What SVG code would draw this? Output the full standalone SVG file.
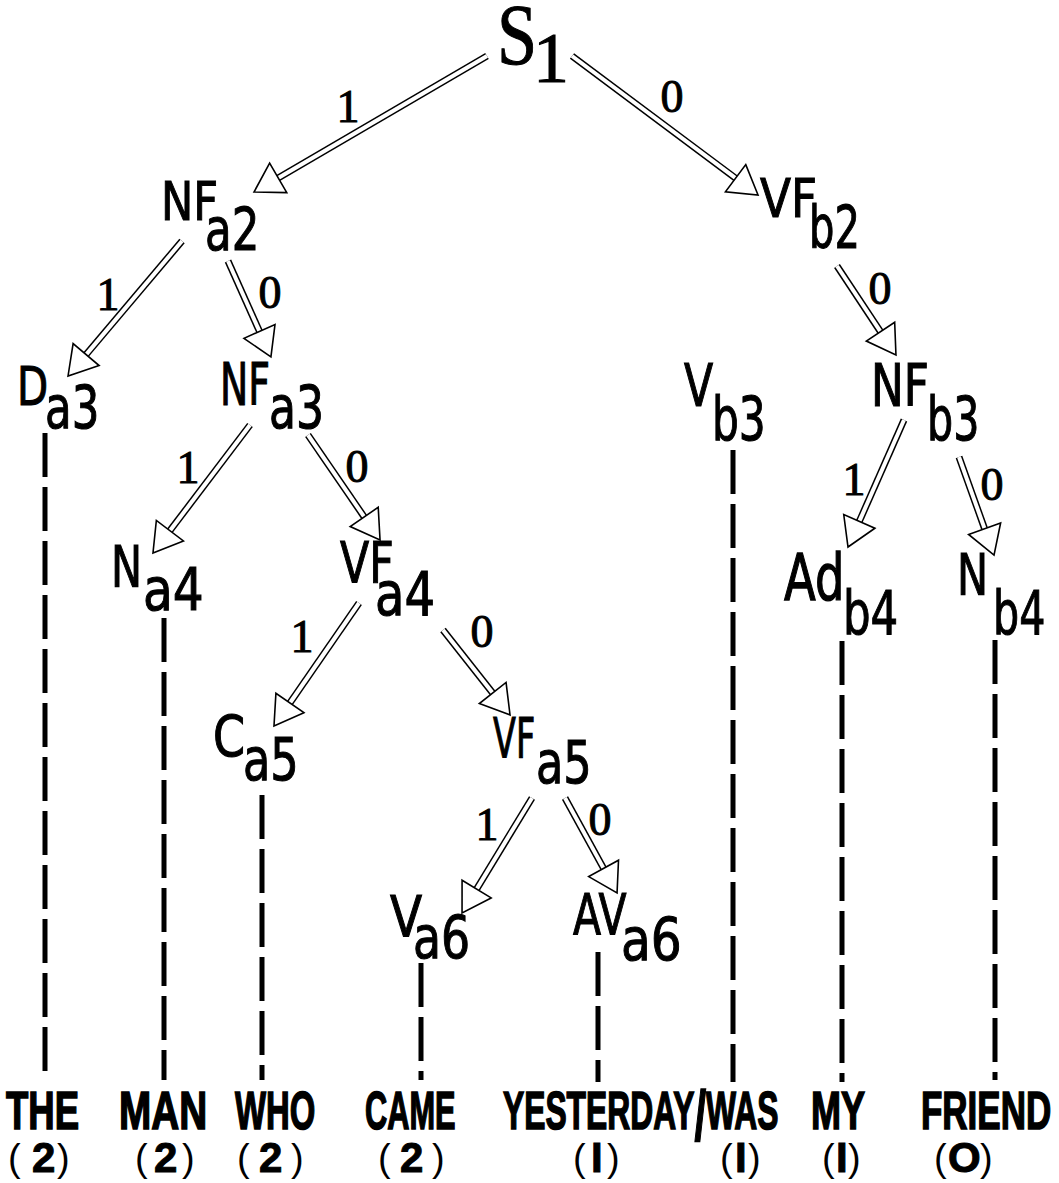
<svg xmlns="http://www.w3.org/2000/svg" width="1059" height="1183" viewBox="0 0 1059 1183">
  <style>
    .bg { fill: #ffffff; }
    .m { font-family: "DejaVu Sans", "Liberation Sans", sans-serif; font-size: 54px; fill: #000; stroke: #000; stroke-width: 1.1; }
    .s { font-family: "DejaVu Sans", "Liberation Sans", sans-serif; font-size: 58px; fill: #000; stroke: #000; stroke-width: 1.1; }
    .root { font-family: "Liberation Serif", "DejaVu Serif", serif; fill: #000; stroke: #000; stroke-width: 1; }
    .lbl { font-family: "Liberation Serif", "DejaVu Serif", serif; font-size: 46px; fill: #000; text-anchor: middle; stroke: #000; stroke-width: 1; }
    .word { font-family: "Liberation Sans", "DejaVu Sans", sans-serif; font-size: 53px; font-weight: bold; fill: #000; stroke: #000; stroke-width: 1.6; }
    .cnt { font-family: "Liberation Sans", "DejaVu Sans", sans-serif; font-size: 38px; fill: #000; }
    .cnt .d { font-weight: bold; font-size: 42px; stroke: #000; stroke-width: 1; }
    .rail { fill: none; stroke: #000; stroke-width: 7; stroke-linecap: butt; }
    .gap { fill: none; stroke: #fff; stroke-width: 4; stroke-linecap: butt; marker-end: url(#head); }
    .lead { fill: none; stroke: #000; stroke-width: 5; stroke-dasharray: 44 10; }
  </style>
  <defs>
    <!-- open triangular head; its base sits at the end of the double rail -->
    <marker id="head" markerUnits="userSpaceOnUse" orient="auto" refX="0" refY="0"
            markerWidth="40" markerHeight="40" viewBox="-2 -20 34 40" overflow="visible">
      <path d="M0,-17 L28,0 L0,17 Z" fill="#fff" stroke="#000" stroke-width="1.6" stroke-linejoin="miter"/>
    </marker>
  </defs>

  <rect class="bg" x="0" y="0" width="1059" height="1183"/>

  <!-- tree edges: double rails with open heads -->
  <g id="connectors">
    <path class="rail" d="M487,56 L278.2,177.9"/><path class="gap" d="M487,56 L278.2,177.9"/>
    <path class="rail" d="M572,56 L735.6,178.2"/><path class="gap" d="M572,56 L735.6,178.2"/>
    <path class="rail" d="M182,241 L86.1,354.6"/><path class="gap" d="M182,241 L86.1,354.6"/>
    <path class="rail" d="M228,261 L259.5,331.4"/><path class="gap" d="M228,261 L259.5,331.4"/>
    <path class="rail" d="M837,266 L880.5,331.7"/><path class="gap" d="M837,266 L880.5,331.7"/>
    <path class="rail" d="M904,420 L859.3,521.4"/><path class="gap" d="M904,420 L859.3,521.4"/>
    <path class="rail" d="M959,457 L984.6,528.7"/><path class="gap" d="M959,457 L984.6,528.7"/>
    <path class="rail" d="M250,425 L169.9,530.7"/><path class="gap" d="M250,425 L169.9,530.7"/>
    <path class="rail" d="M308,435 L364.2,516.9"/><path class="gap" d="M308,435 L364.2,516.9"/>
    <path class="rail" d="M359,603 L289.9,703"/><path class="gap" d="M359,603 L289.9,703"/>
    <path class="rail" d="M443,630 L492.7,693"/><path class="gap" d="M443,630 L492.7,693"/>
    <path class="rail" d="M532,798 L476.6,889.1"/><path class="gap" d="M532,798 L476.6,889.1"/>
    <path class="rail" d="M565,798 L603.6,868.4"/><path class="gap" d="M565,798 L603.6,868.4"/>

    <!-- branch values -->
    <text class="lbl" x="348" y="122">1</text>
    <text class="lbl" x="672" y="112">0</text>
    <text class="lbl" x="108" y="310">1</text>
    <text class="lbl" x="270" y="308">0</text>
    <text class="lbl" x="880" y="304">0</text>
    <text class="lbl" x="854" y="495">1</text>
    <text class="lbl" x="992" y="500">0</text>
    <text class="lbl" x="188" y="483">1</text>
    <text class="lbl" x="357" y="482">0</text>
    <text class="lbl" x="302" y="652">1</text>
    <text class="lbl" x="482" y="647">0</text>
    <text class="lbl" x="487" y="840">1</text>
    <text class="lbl" x="600" y="835">0</text>

    <!-- dashed leads from terminal nodes down to the words -->
    <path class="lead" d="M45,433 V1080"/>
    <path class="lead" d="M164,618 V1080"/>
    <path class="lead" d="M262,795 V1080"/>
    <path class="lead" d="M421,963 V1080"/>
    <path class="lead" d="M598,952 V1082"/>
    <path class="lead" d="M733,450 V1082"/>
    <path class="lead" d="M842,641 V1082"/>
    <path class="lead" d="M995,640 V1080"/>
  </g>

  <!-- nodes -->
  <g id="node-S1">
    <text class="root" font-size="86" transform="translate(497,64) scale(0.84,1)">S</text>
    <text class="root" font-size="72" x="533" y="82">1</text>
  </g>
  <g id="node-NFa2">
    <text class="m" transform="translate(161,220) scale(0.80,1)">NF</text>
    <text class="s" transform="translate(205,250) scale(0.75,1)">a2</text>
  </g>
  <g id="node-VFb2">
    <text class="m" transform="translate(760,217) scale(0.84,1)">VF</text>
    <text class="s" transform="translate(809,248) scale(0.69,1)">b2</text>
  </g>
  <g id="node-Da3">
    <text class="m" transform="translate(17,405) scale(0.75,1)">D</text>
    <text class="s" transform="translate(45,428) scale(0.75,1)">a3</text>
  </g>
  <g id="node-NFa3">
    <text class="m" transform="translate(220,405) scale(0.70,1.1)">NF</text>
    <text class="s" transform="translate(269,428) scale(0.76,1)">a3</text>
  </g>
  <g id="node-Vb3">
    <text class="m" transform="translate(684,406) scale(0.79,1.08)">V</text>
    <text class="s" transform="translate(712,440) scale(0.73,1.05)">b3</text>
  </g>
  <g id="node-NFb3">
    <text class="m" transform="translate(871,406) scale(0.81,1.08)">NF</text>
    <text class="s" transform="translate(927,440) scale(0.71,1.05)">b3</text>
  </g>
  <g id="node-Na4">
    <text class="m" transform="translate(111,587) scale(0.77,1.06)">N</text>
    <text class="s" transform="translate(143,610) scale(0.84,1)">a4</text>
  </g>
  <g id="node-VFa4">
    <text class="m" transform="translate(340,583) scale(0.79,1.06)">VF</text>
    <text class="s" transform="translate(375,615) scale(0.83,1.04)">a4</text>
  </g>
  <g id="node-Adb4">
    <text class="m" transform="translate(784,600) scale(0.86,1.18)">Ad</text>
    <text class="s" transform="translate(843,634) scale(0.75,1.05)">b4</text>
  </g>
  <g id="node-Nb4">
    <text class="m" transform="translate(957,595) scale(0.77,1.04)">N</text>
    <text class="s" transform="translate(993,634) scale(0.71,1.05)">b4</text>
  </g>
  <g id="node-Ca5">
    <text class="m" transform="translate(213,757) scale(0.85,1.06)">C</text>
    <text class="s" transform="translate(243,780) scale(0.77,1)">a5</text>
  </g>
  <g id="node-VFa5">
    <text class="m" transform="translate(493,757) scale(0.62,1.02)">VF</text>
    <text class="s" transform="translate(536,783) scale(0.77,1)">a5</text>
  </g>
  <g id="node-Va6">
    <text class="m" transform="translate(390,937) scale(0.87,1.06)">V</text>
    <text class="s" transform="translate(413,958) scale(0.79,1)">a6</text>
  </g>
  <g id="node-AVa6">
    <text class="m" transform="translate(573,935) scale(0.76,1.06)">AV</text>
    <text class="s" transform="translate(621,960) scale(0.84,1)">a6</text>
  </g>

  <!-- the sentence and its counts -->
  <g id="words">
    <text class="word" transform="translate(6,1129) scale(0.69,1)">THE</text>
    <text class="word" transform="translate(119,1129) scale(0.73,1)">MAN</text>
    <text class="word" transform="translate(235,1129) scale(0.62,1)">WHO</text>
    <text class="word" transform="translate(365,1129) scale(0.58,1)">CAME</text>
    <text class="word" transform="translate(503,1129) scale(0.60,1)">YESTERDAY<tspan dy="11" font-size="70">/</tspan><tspan dy="-11">WAS</tspan></text>
    <text class="word" transform="translate(811,1129) scale(0.68,1)">MY</text>
    <text class="word" transform="translate(921,1129) scale(0.66,1)">FRIEND</text>
  </g>
  <g id="counts">
    <text class="cnt" y="1171"><tspan x="8">(</tspan><tspan class="d" x="32" y="1172">2</tspan><tspan x="57" y="1171">)</tspan></text>
    <text class="cnt" y="1171"><tspan x="135">(</tspan><tspan class="d" x="154" y="1172">2</tspan><tspan x="182" y="1171">)</tspan></text>
    <text class="cnt" y="1171"><tspan x="237">(</tspan><tspan class="d" x="259" y="1172">2</tspan><tspan x="291" y="1171">)</tspan></text>
    <text class="cnt" y="1171"><tspan x="378">(</tspan><tspan class="d" x="400" y="1172">2</tspan><tspan x="432" y="1171">)</tspan></text>
    <text class="cnt" y="1171"><tspan x="573">(</tspan><tspan class="d" x="591" y="1172">I</tspan><tspan x="607" y="1171">)</tspan></text>
    <text class="cnt" y="1171"><tspan x="720">(</tspan><tspan class="d" x="735" y="1172">I</tspan><tspan x="748" y="1171">)</tspan></text>
    <text class="cnt" y="1171"><tspan x="822">(</tspan><tspan class="d" x="836" y="1172">I</tspan><tspan x="848" y="1171">)</tspan></text>
    <text class="cnt" y="1171"><tspan x="934">(</tspan><tspan class="d" x="948" y="1172" font-size="33">O</tspan><tspan x="980" y="1171">)</tspan></text>
  </g>
</svg>
